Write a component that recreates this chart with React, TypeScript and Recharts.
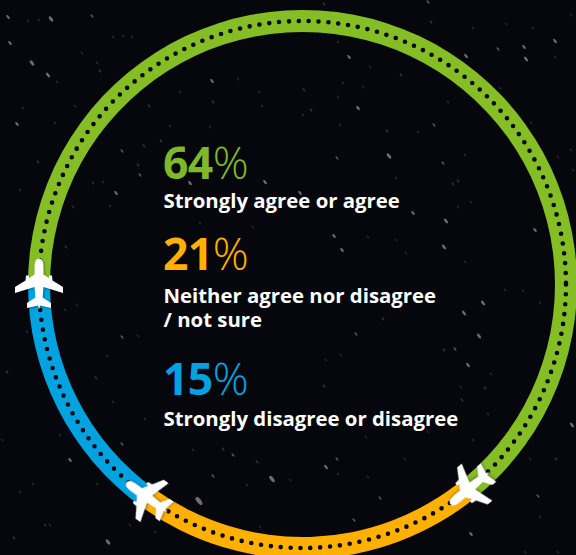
import { PieChart, Pie, Cell } from 'recharts';

const categories = ['Strongly agree or agree', 'Neither agree nor disagree', 'Strongly disagree or disagree'];
const shares = [64, 21, 15];
const sliceColors = ['#84bd24', '#ffb000', '#00a3e0'];
const textColors = ['#7fb829', '#ffb000', '#00a3e0'];

const chartData = categories.map((name, i) => ({ name, value: shares[i] }));
const track = [{ name: 'track', value: 100 }];

// background speckle: x, y, size
const stars = [
  [8, 17, 1], [51, 19, 1.3], [32, 63, 1.3], [48, 75, 1.2], [10, 43, 1], [17, 124, 1], [92, 16, 0.9],
  [100, 71, 0.8], [212, 81, 1], [190, 183, 1.1], [265, 182, 1.1], [116, 193, 1], [140, 175, 0.9],
  [138, 165, 0.8], [122, 151, 0.9], [144, 146, 0.8], [161, 141, 0.8], [149, 106, 0.8], [213, 102, 0.8],
  [66, 247, 0.8], [38, 162, 0.8], [93, 183, 0.7], [526, 59, 1.2], [524, 47, 1], [555, 41, 1.1],
  [466, 56, 1.1], [349, 57, 1], [358, 108, 1.1], [389, 156, 1.3], [337, 158, 0.9], [300, 193, 1],
  [413, 213, 1], [446, 221, 1.2], [444, 247, 1.2], [334, 236, 1], [342, 250, 1], [535, 230, 1],
  [434, 125, 0.9], [443, 163, 0.9], [387, 131, 0.8], [401, 75, 0.8], [304, 90, 0.8], [311, 110, 0.8],
  [428, 2, 0.9], [324, 4, 0.8], [431, 22, 0.8], [498, 49, 0.9], [453, 184, 0.8], [458, 181, 0.8],
  [199, 501, 2], [272, 479, 1.6], [108, 542, 1.3], [70, 460, 1], [122, 337, 0.9], [96, 378, 0.8],
  [233, 455, 0.9], [122, 444, 0.9], [213, 476, 0.9], [7, 372, 0.8], [14, 538, 0.8], [223, 449, 0.8],
  [45, 525, 0.7], [257, 462, 0.8], [483, 303, 1.2], [464, 313, 1.2], [479, 336, 1.2], [468, 365, 1.1],
  [455, 349, 0.9], [326, 467, 1.1], [337, 459, 0.9], [471, 534, 1], [380, 498, 0.9], [354, 520, 0.9],
  [572, 425, 1.2], [538, 496, 0.9], [324, 386, 0.8], [462, 400, 0.8], [485, 388, 0.8], [383, 319, 0.8],
  [356, 334, 0.9], [444, 350, 0.8], [556, 459, 0.8],
];

// the fainter specks
const faintStars = [
  [97, 63], [82, 53], [28, 21], [39, 20], [113, 37], [123, 36], [132, 37], [57, 82], [23, 108], [75, 106],
  [55, 123], [180, 92], [238, 79], [259, 92], [262, 106], [210, 127], [170, 126], [253, 227], [200, 223],
  [73, 207], [20, 190], [103, 182], [110, 206], [338, 42], [370, 67], [343, 83], [363, 87], [338, 97],
  [303, 115], [340, 125], [418, 132], [448, 102], [473, 28], [506, 24], [533, 28], [555, 57], [571, 15],
  [500, 88], [531, 123], [571, 150], [573, 170], [558, 157], [465, 155], [396, 178], [458, 207], [471, 202],
  [368, 237], [396, 240], [406, 253], [465, 262], [77, 305], [65, 310], [27, 332], [107, 356], [138, 336],
  [113, 402], [145, 419], [193, 450], [247, 485], [260, 527], [130, 525], [155, 532], [20, 492], [50, 525],
  [33, 484], [97, 484], [2, 440], [60, 435], [505, 290], [523, 291], [540, 303], [491, 374], [461, 387],
  [326, 360], [341, 355], [405, 459], [366, 437], [540, 517], [530, 459], [488, 414], [473, 440], [428, 432],
  [368, 477], [338, 474], [290, 480], [558, 552], [525, 552],
];

const CX = 302.5;
const CY = 284.5;
const BG = '#05070c';

const PLANE =
  'M0,-26 C3.5,-26 4.5,-22 4.5,-17 L4.5,-10 L10,-6.5 L10,-9 L13,-9 L13.5,-4 L24,2.5 L24,8.5 L4.5,2.5 L3.6,13 L12,18.5 L12,23.5 L1,21 L0,25 ' +
  'L-1,21 L-12,23.5 L-12,18.5 L-3.6,13 L-4.5,2.5 L-24,8.5 L-24,2.5 L-13.5,-4 L-13,-9 L-10,-9 L-10,-6.5 L-4.5,-10 L-4.5,-17 C-4.5,-22 -3.5,-26 0,-26 Z';

const renderDots = (props: any) => (
  <circle
    cx={props.cx}
    cy={props.cy}
    r={263.5}
    fill="none"
    stroke={BG}
    strokeWidth={4.6}
    strokeLinecap="round"
    strokeDasharray="0 9.9"
  />
);

// one plane sits where each slice starts, flying clockwise
const renderPlane = (props: any) => {
  const a = (props.startAngle * Math.PI) / 180;
  const x = props.cx + 263.5 * Math.cos(a);
  const y = props.cy - 263.5 * Math.sin(a);
  return (
    <path
      d={PLANE}
      fill="#fff"
      transform={`translate(${x},${y}) rotate(${180 - props.startAngle})`}
      style={{ filter: 'drop-shadow(1px 1px 1px rgba(0,0,0,0.35))' }}
    />
  );
};

const headings = [
  { y: 179, i: 0 },
  { y: 270, i: 1 },
  { y: 395, i: 2 },
];
const labels = [
  { y: 208, lines: [categories[0]] },
  { y: 303, lines: [categories[1], '/ not sure'] },
  { y: 426, lines: [categories[2]] },
];

export default function App() {
  return (
    <div style={{ position: 'absolute', left: 0, top: 0, width: 576, height: 555, overflow: 'hidden', background: BG }}>
      <svg width={576} height={555} style={{ position: 'absolute', left: 0, top: 0 }}>
        {faintStars.map(([x, y], i) => (
          <ellipse key={i} cx={x} cy={y} rx={0.8} ry={1.9} fill="#3b4b58" opacity={0.55} transform={`rotate(-38 ${x} ${y})`} />
        ))}
        {stars.map(([x, y, s], i) => (
          <ellipse
            key={i}
            cx={x}
            cy={y}
            rx={1.1 * s}
            ry={2.4 * s}
            fill={s >= 0.9 ? '#8d9093' : '#4a5a66'}
            opacity={s >= 1 ? 0.75 : 0.55}
            transform={`rotate(-38 ${x} ${y})`}
          />
        ))}
      </svg>
      <div style={{ position: 'absolute', left: 0, top: 0 }}>
        <PieChart width={576} height={555} margin={{ top: 0, right: 0, bottom: 0, left: 0 }}>
          <Pie
            data={chartData}
            dataKey="value"
            cx={CX}
            cy={CY}
            innerRadius={252.5}
            outerRadius={274.5}
            startAngle={180}
            endAngle={-180}
            stroke="none"
            isAnimationActive={false}
          >
            {chartData.map((entry, index) => (
              <Cell key={`cell-${index}`} fill={sliceColors[index]} />
            ))}
          </Pie>
          <Pie
            data={track}
            dataKey="value"
            cx={CX}
            cy={CY}
            innerRadius={262}
            outerRadius={265}
            startAngle={180}
            endAngle={-180}
            stroke="none"
            shape={renderDots}
            isAnimationActive={false}
          />
          <Pie
            data={chartData}
            dataKey="value"
            cx={CX}
            cy={CY}
            innerRadius={262}
            outerRadius={265}
            startAngle={180}
            endAngle={-180}
            stroke="none"
            shape={renderPlane}
            isAnimationActive={false}
          />
        </PieChart>
      </div>
      <svg width={576} height={555} style={{ position: 'absolute', left: 0, top: 0, fontFamily: '"Open Sans", sans-serif' }}>
        {headings.map(({ y, i }) => (
          <text key={i} x={163} y={y} fontSize={44.5} fill={textColors[i]} letterSpacing={-0.6}>
            <tspan fontWeight={700}>{shares[i]}</tspan>
            <tspan fontWeight={300}>%</tspan>
          </text>
        ))}
        {labels.map((l) => (
          <text key={l.y} x={163.5} y={l.y} fontSize={20.35} fontWeight={700} fill="#fff">
            {l.lines.map((line, i) => (
              <tspan key={i} x={163.5} dy={i === 0 ? 0 : 24}>
                {line}
              </tspan>
            ))}
          </text>
        ))}
      </svg>
    </div>
  );
}
